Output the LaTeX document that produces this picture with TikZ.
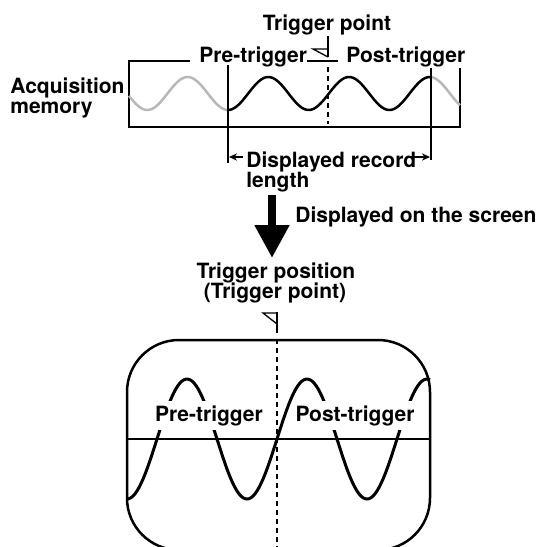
\documentclass[tikz,border=0pt]{standalone}
\usepackage{fontspec}
\setmainfont{TeX Gyre Heros}
\usepackage{tikz}
\usetikzlibrary{arrows,arrows.meta}
\definecolor{wavegrey}{gray}{0.72}
\tikzstyle{arrow} = [line width=0.65pt,->,>={Stealth[length=4pt,width=3.6pt]}]
\tikzstyle{bigarrow} = [line width=4pt,-{Triangle[length=16.5pt,width=16.5pt]}]
\tikzstyle{txt} = [font=\bfseries\fontsize{10.5}{10}\selectfont,inner sep=0pt]
\tikzstyle{frame} = [line width=1.25pt]
\tikzstyle{thinline} = [line width=0.65pt]
\tikzstyle{trig} = [line width=0.75pt,dash pattern=on 2.5pt off 2pt]

\begin{document}
\begin{tikzpicture}[x=0.5pt,y=-0.5pt]
\useasboundingbox (0,0) rectangle (543,547);
% acquisition memory
\node[txt,anchor=base] (tpoint) at (327,30) {Trigger point};
\node[txt,anchor=base west] (pre) at (199,62) {Pre-trigger};
\node[txt,anchor=base west] (post) at (346,62) {Post-trigger};
\node[txt,anchor=base west] (acq) at (10,93) {Acquisition};
\node[txt,anchor=base west] (mem) at (10,113) {memory};
\draw[frame] (190,61) -- (129,61) -- (129,127) -- (460,127) -- (460,68);
\draw[frame] (307,61) -- (338,61);
\draw[thinline] (328,36) -- (328,57);
\draw[thinline] (328,49) -- (313,49) -- (328,57);
\draw[trig] (328,67) -- (328,124);
\draw[wavegrey,frame] plot[domain=129:228,samples=50,smooth] (\x,{93.5+16.5*cos(4.461*(\x-228))});
\draw[frame] plot[domain=228:431,samples=100,smooth] (\x,{93.5+16.5*cos(4.461*(\x-228))});
\draw[wavegrey,frame] plot[domain=431:460,samples=20,smooth] (\x,{93.5+16.5*cos(4.461*(\x-228))});
% displayed record length
\coordinate (recL) at (228,65);
\coordinate (recLend) at (228,163);
\coordinate (recR) at (431,68);
\coordinate (recRend) at (431,160);
\draw[thinline] (recL) -- (recLend);
\draw[thinline] (recR) -- (recRend);
\node[txt,anchor=base west] (rec) at (246,167) {Displayed record};
\node[txt,anchor=base west] (len) at (246,187) {length};
\coordinate (tailL) at (243,157);
\coordinate (tipL) at (229,157);
\coordinate (tailR) at (410,157);
\coordinate (tipR) at (430,157);
\draw[arrow] (tailL) -- (tipL);
\draw[arrow] (tailR) -- (tipR);
% down to the screen
\coordinate (dtop) at (272,195);
\coordinate (dtip) at (272,258);
\draw[bigarrow] (dtop) -- (dtip);
\node[txt,anchor=base west] (onscreen) at (295,222) {Displayed on the screen};
\node[txt,anchor=base] (tpos) at (276,278) {Trigger position};
\node[txt,anchor=base] (tpos2) at (275,298) {(Trigger point)};
\draw[thinline] (277,312) -- (277,333);
\draw[thinline] (277,313) -- (263,313) -- (277,324);
% screen
\begin{scope}
\clip (0,0) rectangle (543,547);
\draw[frame,rounded corners=26pt] (127,340) rectangle (430,550);
\draw[thinline] (127,439) -- (430,439);
\draw[line width=1.5pt] plot[domain=127:430,samples=150,smooth] (\x,{439-60*sin(3*(\x-157))});
\draw[trig] (277,339) -- (277,547);
\end{scope}
\node[txt,fill=white,inner xsep=2pt,inner ysep=2pt,anchor=base] (spre) at (209,421) {Pre-trigger};
\node[txt,fill=white,inner xsep=2pt,inner ysep=2pt,anchor=base] (spost) at (355,421) {Post-trigger};
\end{tikzpicture}
\end{document}
